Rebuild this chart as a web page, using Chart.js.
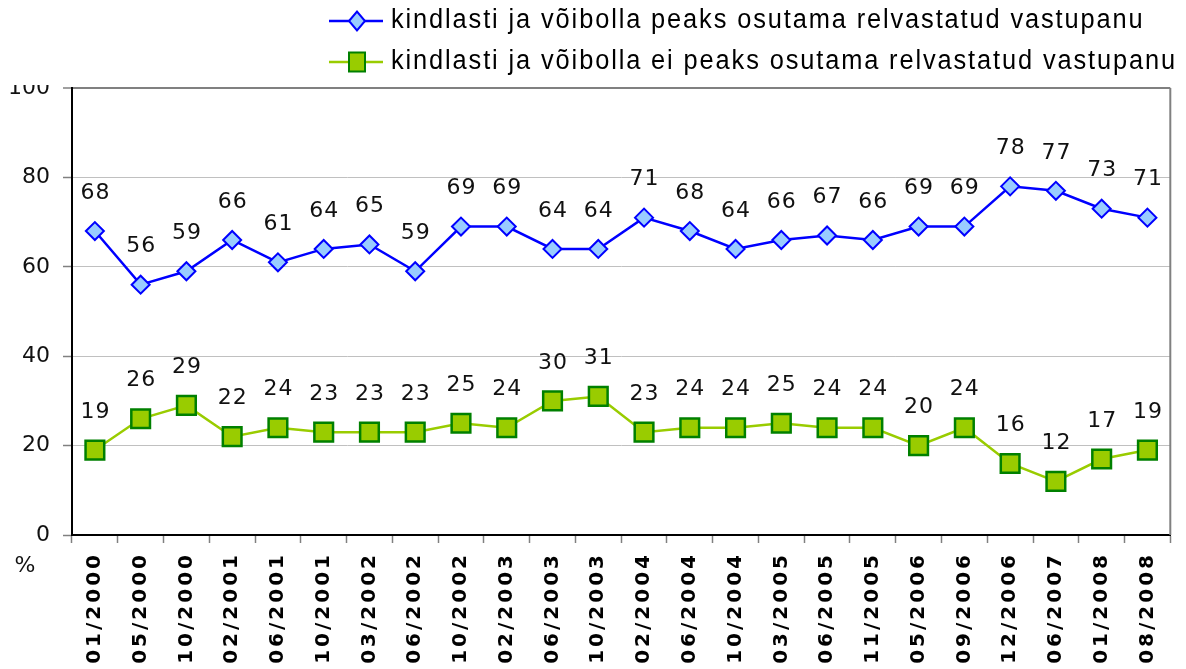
<!DOCTYPE html>
<html>
<head>
<meta charset="utf-8">
<script src="https://cdn.jsdelivr.net/npm/chart.js@4.4.0/dist/chart.umd.min.js"></script>
<style>
  html, body { margin: 0; padding: 0; background: #fff; overflow: hidden; }
  #wrap { width: 1186px; height: 669px; }
</style>
</head>
<body>
<div id="wrap"><canvas id="chart" width="1186" height="669"></canvas></div>
<script>
const categories = ["01/2000", "05/2000", "10/2000", "02/2001", "06/2001", "10/2001", "03/2002", "06/2002",
    "10/2002", "02/2003", "06/2003", "10/2003", "02/2004", "06/2004", "10/2004", "03/2005",
    "06/2005", "11/2005", "05/2006", "09/2006", "12/2006", "06/2007", "01/2008", "08/2008"];
const seriesNames = [
    "kindlasti ja võibolla peaks osutama relvastatud vastupanu",
    "kindlasti ja võibolla ei peaks osutama relvastatud vastupanu"
];
const shouldResist = [68, 56, 59, 66, 61, 64, 65, 59, 69, 69, 64, 64, 71, 68, 64, 66, 67, 66, 69, 69, 78, 77, 73, 71];
const shouldNotResist = [19, 26, 29, 22, 24, 23, 23, 23, 25, 24, 30, 31, 23, 24, 24, 25, 24, 24, 20, 24, 16, 12, 17, 19];
const yTicks = [0, 20, 40, 60, 80, 100];

const labelFont = '22px "DejaVu Sans", Verdana, sans-serif';

// wider letter spacing for the date labels only, like the original export
const dateSpacing = {
    id: "dateSpacing",
    afterLayout(chart) {
        const scale = chart.scales.x;
        if (scale._spaced) return;
        const orig = scale.drawLabels;
        scale.drawLabels = function (area) {
            const ctx = this.ctx;
            const prev = ctx.letterSpacing;
            ctx.letterSpacing = "3px";
            orig.call(this, area);
            ctx.letterSpacing = prev || "0px";
        };
        scale._spaced = true;
    }
};

// value labels above each point
const valueLabels = {
    id: "valueLabels",
    afterDatasetsDraw(chart) {
        const ctx = chart.ctx;
        ctx.save();
        ctx.letterSpacing = "1px";
        ctx.font = labelFont;
        ctx.fillStyle = "#111";
        ctx.textAlign = "center";
        ctx.textBaseline = "middle";
        chart.data.datasets.forEach((ds, i) => {
            chart.getDatasetMeta(i).data.forEach((pt, j) => {
                ctx.fillText(String(ds.data[j]), pt.x + 0.5, pt.y - 38);
            });
        });
        ctx.restore();
    }
};

// legend, right border, % sign
const extras = {
    id: "extras",
    afterDraw(chart) {
        const ctx = chart.ctx;
        const area = chart.chartArea;
        ctx.save();
        ctx.letterSpacing = "0px";

        // right border of plot
        ctx.strokeStyle = "#808080";
        ctx.lineWidth = 2;
        ctx.beginPath();
        ctx.moveTo(area.right, area.top);
        ctx.lineTo(area.right, area.bottom);
        ctx.stroke();

        // legend area covers top of the "100" label like in the original
        ctx.fillStyle = "#fff";
        ctx.fillRect(0, 0, chart.width, area.top - 3);

        ctx.font = '27px "Liberation Sans", Arial, sans-serif';
        ctx.letterSpacing = "2px";
        const textW = ctx.measureText(seriesNames[1]).width;
        const sx = 786 / textW;
        const rows = [21, 62];
        chart.data.datasets.forEach((ds, i) => {
            const y = rows[i];
            ctx.strokeStyle = ds.borderColor;
            ctx.lineWidth = 2.5;
            ctx.beginPath();
            ctx.moveTo(329, y);
            ctx.lineTo(383, y);
            ctx.stroke();
            ctx.fillStyle = ds.pointBackgroundColor;
            ctx.strokeStyle = ds.pointBorderColor;
            ctx.lineWidth = 2;
            ctx.beginPath();
            if (ds.pointStyle === "rectRot") {
                ctx.moveTo(349, y);
                ctx.lineTo(357, y - 9.5);
                ctx.lineTo(365, y);
                ctx.lineTo(357, y + 9.5);
                ctx.closePath();
            } else {
                ctx.rect(349, y - 9.5, 16, 19);
            }
            ctx.fill();
            ctx.stroke();

            ctx.fillStyle = "#000";
            ctx.textBaseline = "middle";
            ctx.textAlign = "left";
            ctx.save();
            ctx.translate(391, y);
            ctx.scale(sx, 1);
            ctx.fillText(seriesNames[i], 0, 0);
            ctx.restore();
        });

        // unit sign under the y axis
        ctx.letterSpacing = "0px";
        ctx.font = labelFont;
        ctx.fillStyle = "#111";
        ctx.textAlign = "center";
        ctx.textBaseline = "middle";
        ctx.fillText("%", 25, area.bottom + 31);
        ctx.restore();
    }
};

new Chart(document.getElementById("chart"), {
    type: "line",
    data: {
        labels: categories,
        datasets: [
            {
                label: seriesNames[0],
                data: shouldResist,
                borderColor: "#0000FF",
                borderWidth: 2.5,
                pointStyle: "rectRot",
                pointRadius: 9,
                pointHoverRadius: 9,
                pointBackgroundColor: "#99CCFF",
                pointBorderColor: "#0000FF",
                pointBorderWidth: 2,
                tension: 0
            },
            {
                label: seriesNames[1],
                data: shouldNotResist,
                borderColor: "#99CC00",
                borderWidth: 2.5,
                pointStyle: "rect",
                pointRadius: 13.2,
                pointHoverRadius: 13.2,
                pointBackgroundColor: "#99CC00",
                pointBorderColor: "#008000",
                pointBorderWidth: 2.5,
                tension: 0
            }
        ]
    },
    options: {
        responsive: false,
        animation: false,
        layout: { padding: { top: 88, right: 6, left: 0, bottom: 0 } },
        plugins: {
            legend: { display: false },
            tooltip: { enabled: false }
        },
        scales: {
            x: {
                offset: true,
                afterFit: (scale) => { scale.height = 134; },
                border: { color: "#000", width: 2 },
                grid: {
                    offset: true,
                    drawOnChartArea: false,
                    tickLength: 8,
                    tickColor: "#808080",
                    tickWidth: 1.5
                },
                ticks: {
                    autoSkip: false,
                    minRotation: 90,
                    maxRotation: 90,
                    padding: 9,
                    color: "#000",
                    font: { family: '"DejaVu Sans", Verdana, sans-serif', size: 20, weight: "bold" }
                }
            },
            y: {
                min: 0,
                max: 100,
                afterFit: (scale) => { scale.width = 72; },
                afterBuildTicks: (scale) => { scale.ticks = yTicks.map(v => ({ value: v })); },
                border: { color: "#000", width: 2 },
                grid: {
                    color: (c) => c.tick && c.tick.value === 100 ? "#808080" : "#C0C0C0",
                    lineWidth: (c) => c.tick && c.tick.value === 100 ? 2 : 1,
                    tickLength: 9,
                    tickColor: "#808080",
                    tickWidth: 1.5
                },
                ticks: {
                    padding: 13,
                    color: "#111",
                    font: { family: '"DejaVu Sans", Verdana, sans-serif', size: 22 }
                }
            }
        }
    },
    plugins: [dateSpacing, valueLabels, extras]
});
</script>
</body>
</html>
